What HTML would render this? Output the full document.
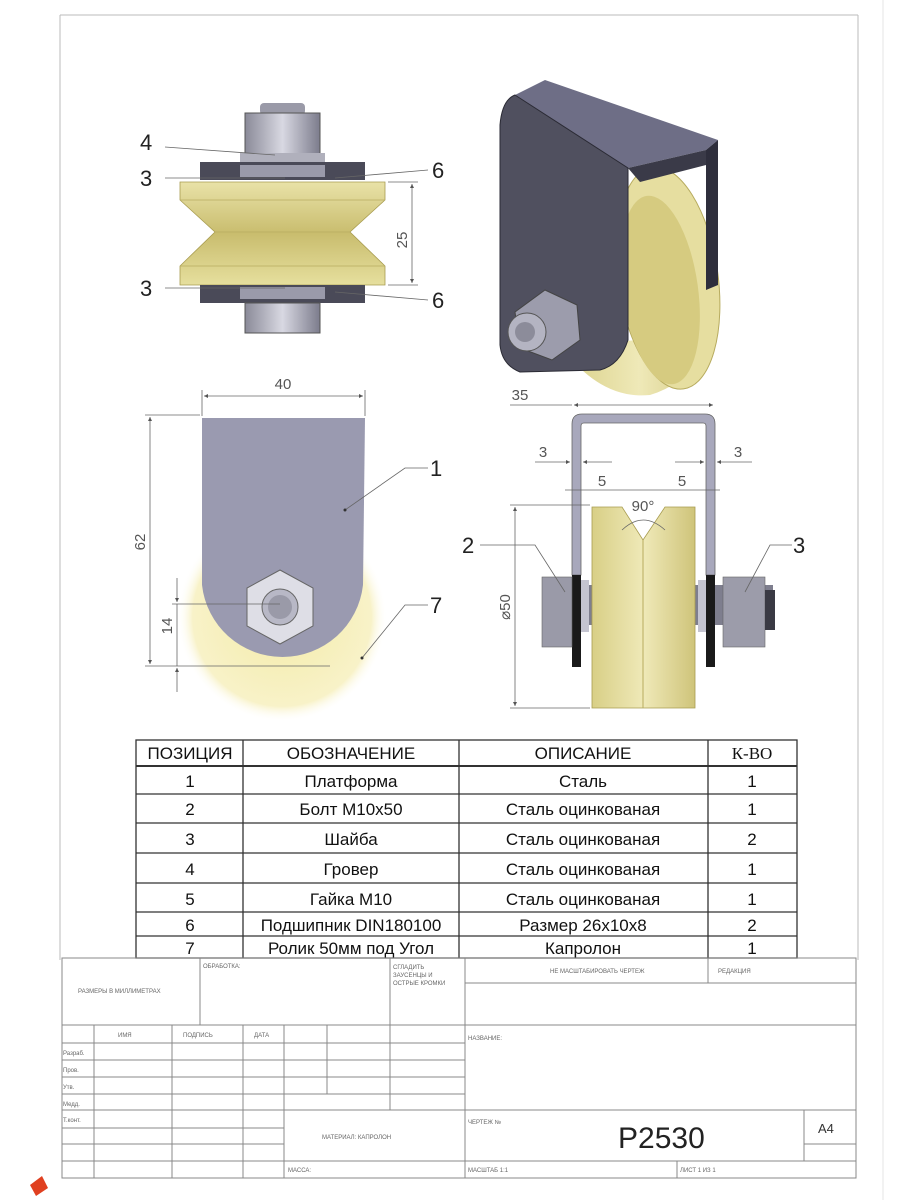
<!DOCTYPE html>
<html><head><meta charset="utf-8"><style>
html,body{margin:0;padding:0;background:#fff;width:900px;height:1200px;overflow:hidden}
svg{display:block}
.l{font-family:"Liberation Sans",sans-serif;font-size:22px;fill:#222}
.d{font-family:"Liberation Sans",sans-serif;font-size:15px;fill:#555}
.t{font-family:"Liberation Sans","DejaVu Sans",sans-serif;font-size:17px;fill:#111;text-anchor:middle}
.s{font-family:"Liberation Sans","DejaVu Sans",sans-serif;font-size:6px;fill:#666}
</style></head><body>
<svg width="900" height="1200" viewBox="0 0 900 1200" xmlns="http://www.w3.org/2000/svg">
<defs>
<linearGradient id="yel" x1="0" y1="0" x2="0" y2="1"><stop offset="0" stop-color="#e9e2a8"/><stop offset="0.5" stop-color="#c9bd6e"/><stop offset="1" stop-color="#e6df9e"/></linearGradient>
<linearGradient id="yh" x1="0" y1="0" x2="1" y2="0"><stop offset="0" stop-color="#d8cf86"/><stop offset="0.5" stop-color="#efe9b8"/><stop offset="1" stop-color="#cfc47a"/></linearGradient>
<radialGradient id="pale" cx="0.5" cy="0.5" r="0.5"><stop offset="0" stop-color="#f2ea a0"/><stop offset="0" stop-color="#f3eba8"/><stop offset="0.85" stop-color="#f8f2c8"/><stop offset="1" stop-color="#fff" stop-opacity="0"/></radialGradient>
<linearGradient id="steel" x1="0" y1="0" x2="1" y2="0"><stop offset="0" stop-color="#8a8a98"/><stop offset="0.5" stop-color="#d8d8e2"/><stop offset="1" stop-color="#7c7c8c"/></linearGradient>
<marker id="a" viewBox="0 0 10 10" refX="10" refY="5" markerWidth="7" markerHeight="5" orient="auto-start-reverse"><path d="M0,0L10,5L0,10z" fill="#555"/></marker>
</defs>
<g stroke="#bbb" stroke-width="1" fill="none">
<line x1="60" y1="15" x2="858" y2="15"/><line x1="60" y1="15" x2="60" y2="960"/><line x1="858" y1="15" x2="858" y2="960"/>
<line x1="883" y1="0" x2="883" y2="1200" stroke="#e4e4e4"/>
</g>

<!-- TOP LEFT VIEW -->
<rect x="260" y="103" width="45" height="12" rx="4" fill="#9a9aa8"/>
<rect x="245" y="113" width="75" height="42" fill="url(#steel)" stroke="#555"/>
<rect x="240" y="153" width="85" height="10" fill="#b0b0bc"/>
<rect x="200" y="162" width="165" height="18" fill="#4a4a58"/>
<rect x="240" y="165" width="85" height="12" fill="#9a9aaa"/>
<path d="M180,182 L385,182 L385,200 L350,232 L385,266 L385,285 L180,285 L180,266 L215,232 L180,200 Z" fill="url(#yel)" stroke="#a89c50" stroke-width="0.8"/>
<path d="M180,200 L385,200 M215,232 L350,232 M180,266 L385,266" stroke="#b8ac60" stroke-width="0.8"/>
<rect x="200" y="285" width="165" height="18" fill="#4a4a58"/>
<rect x="240" y="287" width="85" height="12" fill="#9a9aaa"/>
<rect x="245" y="303" width="75" height="30" fill="url(#steel)" stroke="#555"/>
<g stroke="#666" stroke-width="0.8" fill="none">
<line x1="388" y1="182" x2="418" y2="182"/><line x1="388" y1="285" x2="418" y2="285"/>
<line x1="412" y1="184" x2="412" y2="283" marker-start="url(#a)" marker-end="url(#a)"/>
<path d="M165,147 L275,155"/><path d="M165,178 L285,178"/><path d="M428,170 L335,178"/>
<path d="M165,288 L285,288"/><path d="M428,300 L335,292"/>
</g>
<text class="d" transform="translate(407,240) rotate(-90)" text-anchor="middle">25</text>
<text class="l" x="140" y="150">4</text><text class="l" x="140" y="186">3</text>
<text class="l" x="432" y="178">6</text><text class="l" x="140" y="296">3</text><text class="l" x="432" y="308">6</text>

<!-- TOP RIGHT ISO -->
<path d="M560,345 Q600,400 650,395 Q700,380 718,320 L718,280 L640,340 Z" fill="url(#yh)"/>
<ellipse cx="668" cy="278" rx="50" ry="112" transform="rotate(-8 668 278)" fill="#e6dea0" stroke="#b7ab5e"/>
<ellipse cx="660" cy="290" rx="38" ry="95" transform="rotate(-8 660 290)" fill="#d6cb80"/>
<path d="M515,95 L545,80 L718,140 L706,150 L628,168 Z" fill="#6e6e86"/>
<path d="M706,150 L718,140 L718,285 L706,290 Z" fill="#2e2e3c"/>
<path d="M500,125 Q502,100 515,95 L628,168 L628,340 Q620,365 600,370 L520,372 Q502,365 500,345 Z" fill="#50505f" stroke="#2a2a34"/>
<path d="M628,168 L706,150 L706,165 L640,182 Z" fill="#3a3a48"/>
<polygon points="545,290 577,305 580,340 552,360 520,348 515,312" fill="#9c9cac" stroke="#444"/>
<circle cx="527" cy="332" r="19" fill="#b4b4c2" stroke="#555"/>
<circle cx="525" cy="332" r="10" fill="#8c8c9a"/>

<!-- BOTTOM LEFT -->
<circle cx="282" cy="617" r="105" fill="url(#pale)"/>
<path d="M202,418 L365,418 L363,585 A81,81 0 0 1 202,585 Z" fill="#9a9ab0"/>
<polygon points="280,570 313,588 313,626 280,644 247,626 247,588" fill="#dedee6" stroke="#666"/>
<circle cx="280" cy="607" r="18" fill="#b8b8c6" stroke="#666"/>
<circle cx="280" cy="607" r="12" fill="#9a9aa8"/>
<g stroke="#666" stroke-width="0.8" fill="none">
<line x1="202" y1="390" x2="202" y2="416"/><line x1="365" y1="390" x2="365" y2="416"/>
<line x1="204" y1="396" x2="363" y2="396" marker-start="url(#a)" marker-end="url(#a)"/>
<line x1="145" y1="415" x2="200" y2="415"/><line x1="145" y1="666" x2="330" y2="666"/>
<line x1="150" y1="417" x2="150" y2="664" marker-start="url(#a)" marker-end="url(#a)"/>
<line x1="172" y1="604" x2="280" y2="604"/>
<line x1="177" y1="578" x2="177" y2="602" marker-end="url(#a)"/>
<line x1="177" y1="692" x2="177" y2="668" marker-end="url(#a)"/>
<line x1="177" y1="604" x2="177" y2="666"/>
<path d="M428,468 L405,468 L345,510"/><path d="M428,605 L405,605 L362,658"/>
</g>
<circle cx="345" cy="510" r="1.5" fill="#333"/><circle cx="362" cy="658" r="1.5" fill="#333"/>
<text class="d" x="283" y="389" text-anchor="middle">40</text>
<text class="d" transform="translate(145,542) rotate(-90)" text-anchor="middle">62</text>
<text class="d" transform="translate(172,626) rotate(-90)" text-anchor="middle">14</text>
<text class="l" x="430" y="476">1</text><text class="l" x="430" y="613">7</text>

<!-- BOTTOM RIGHT FRONT VIEW -->
<rect x="545" y="585" width="228" height="40" fill="#7e7e8e"/>
<path d="M572,575 L572,424 Q572,414 582,414 L705,414 Q715,414 715,424 L715,575 L706,575 L706,426 Q706,423 703,423 L584,423 Q581,423 581,426 L581,575 Z" fill="#a8a8bc" stroke="#666" stroke-width="0.8"/>
<rect x="572" y="575" width="9" height="92" fill="#1a1a1a"/><rect x="706" y="575" width="9" height="92" fill="#1a1a1a"/>
<rect x="581" y="580" width="8" height="52" fill="#c4c4d0"/><rect x="698" y="580" width="8" height="52" fill="#c4c4d0"/>
<path d="M592,507 L622,507 L643,540 L665,507 L695,507 L695,708 L592,708 Z" fill="url(#yh)" stroke="#a89c50" stroke-width="0.8"/>
<line x1="643" y1="540" x2="643" y2="708" stroke="#b7ab5e"/>
<rect x="542" y="577" width="30" height="70" fill="#9a9aa8" stroke="#666" stroke-width="0.6"/>
<rect x="723" y="577" width="42" height="70" fill="#9c9caa" stroke="#666" stroke-width="0.6"/>
<rect x="765" y="590" width="10" height="40" fill="#3a3a44"/>
<g stroke="#666" stroke-width="0.8" fill="none">
<line x1="510" y1="405" x2="572" y2="405"/><line x1="574" y1="405" x2="713" y2="405" marker-start="url(#a)" marker-end="url(#a)"/>
<line x1="535" y1="462" x2="570" y2="462" marker-end="url(#a)"/><line x1="612" y1="462" x2="583" y2="462" marker-end="url(#a)"/>
<line x1="675" y1="462" x2="704" y2="462" marker-end="url(#a)"/><line x1="752" y1="462" x2="717" y2="462" marker-end="url(#a)"/>
<line x1="565" y1="490" x2="720" y2="490"/>
<line x1="510" y1="505" x2="590" y2="505"/><line x1="510" y1="708" x2="590" y2="708"/>
<line x1="515" y1="507" x2="515" y2="706" marker-start="url(#a)" marker-end="url(#a)"/>
<path d="M622,530 Q643,510 665,530"/>
<path d="M480,545 L535,545 L565,592"/><path d="M792,545 L770,545 L745,592"/>
</g>
<text class="d" x="520" y="400" text-anchor="middle">35</text>
<text class="d" x="543" y="457" text-anchor="middle">3</text><text class="d" x="738" y="457" text-anchor="middle">3</text>
<text class="d" x="602" y="486" text-anchor="middle">5</text><text class="d" x="682" y="486" text-anchor="middle">5</text>
<text class="d" x="643" y="511" text-anchor="middle">90°</text>
<text class="d" transform="translate(510,607) rotate(-90)" text-anchor="middle">⌀50</text>
<text class="l" x="462" y="553">2</text><text class="l" x="793" y="553">3</text>

<!-- TABLE -->
<g stroke="#333" stroke-width="1.3" fill="none">
<rect x="136" y="740" width="661" height="218"/>
<line x1="136" y1="766" x2="797" y2="766" stroke-width="2"/>
<line x1="136" y1="794" x2="797" y2="794"/><line x1="136" y1="823" x2="797" y2="823"/>
<line x1="136" y1="853" x2="797" y2="853"/><line x1="136" y1="883" x2="797" y2="883"/>
<line x1="136" y1="912" x2="797" y2="912"/><line x1="136" y1="936" x2="797" y2="936"/>
<line x1="243" y1="740" x2="243" y2="958"/><line x1="459" y1="740" x2="459" y2="958"/><line x1="708" y1="740" x2="708" y2="958"/>
</g>
<g class="t">
<text x="190" y="759">ПОЗИЦИЯ</text><text x="351" y="759">ОБОЗНАЧЕНИЕ</text><text x="583" y="759">ОПИСАНИЕ</text><text x="752" y="759" style="font-family:'Liberation Serif',serif">К-ВО</text>
<text x="190" y="787">1</text><text x="351" y="787">Платформа</text><text x="583" y="787">Сталь</text><text x="752" y="787">1</text>
<text x="190" y="815">2</text><text x="351" y="815">Болт М10х50</text><text x="583" y="815">Сталь оцинкованая</text><text x="752" y="815">1</text>
<text x="190" y="845">3</text><text x="351" y="845">Шайба</text><text x="583" y="845">Сталь оцинкованая</text><text x="752" y="845">2</text>
<text x="190" y="875">4</text><text x="351" y="875">Гровер</text><text x="583" y="875">Сталь оцинкованая</text><text x="752" y="875">1</text>
<text x="190" y="905">5</text><text x="351" y="905">Гайка М10</text><text x="583" y="905">Сталь оцинкованая</text><text x="752" y="905">1</text>
<text x="190" y="931">6</text><text x="351" y="931">Подшипник DIN180100</text><text x="583" y="931">Размер 26х10х8</text><text x="752" y="931">2</text>
<text x="190" y="954">7</text><text x="351" y="954">Ролик 50мм под Угол</text><text x="583" y="954">Капролон</text><text x="752" y="954">1</text>
</g>

<!-- TITLE BLOCK -->
<g stroke="#888" stroke-width="1" fill="none">
<rect x="62" y="958" width="794" height="220"/>
<line x1="62" y1="1025" x2="856" y2="1025"/>
<line x1="200" y1="958" x2="200" y2="1025"/><line x1="390" y1="958" x2="390" y2="1110"/>
<line x1="465" y1="958" x2="465" y2="1178"/><line x1="708" y1="958" x2="708" y2="983"/>
<line x1="465" y1="983" x2="856" y2="983"/>
<line x1="94" y1="1025" x2="94" y2="1178"/><line x1="172" y1="1025" x2="172" y2="1178"/>
<line x1="243" y1="1025" x2="243" y2="1178"/><line x1="284" y1="1025" x2="284" y2="1178"/>
<line x1="327" y1="1025" x2="327" y2="1094"/>
<line x1="62" y1="1043" x2="465" y2="1043"/><line x1="62" y1="1060" x2="465" y2="1060"/>
<line x1="62" y1="1077" x2="465" y2="1077"/><line x1="62" y1="1094" x2="465" y2="1094"/>
<line x1="62" y1="1110" x2="856" y2="1110"/>
<line x1="62" y1="1128" x2="284" y2="1128"/><line x1="62" y1="1144" x2="284" y2="1144"/>
<line x1="62" y1="1161" x2="856" y2="1161"/>
<line x1="804" y1="1110" x2="804" y2="1161"/><line x1="804" y1="1144" x2="856" y2="1144"/>
<line x1="677" y1="1161" x2="677" y2="1178"/>
</g>
<g class="s">
<text x="78" y="993">РАЗМЕРЫ В МИЛЛИМЕТРАХ</text><text x="203" y="968">ОБРАБОТКА:</text>
<text x="393" y="969">СГЛАДИТЬ</text><text x="393" y="977">ЗАУСЕНЦЫ И</text><text x="393" y="985">ОСТРЫЕ КРОМКИ</text>
<text x="550" y="973">НЕ МАСШТАБИРОВАТЬ ЧЕРТЕЖ</text><text x="718" y="973">РЕДАКЦИЯ</text>
<text x="118" y="1037">ИМЯ</text><text x="183" y="1037">ПОДПИСЬ</text><text x="254" y="1037">ДАТА</text>
<text x="63" y="1055">Разраб.</text><text x="63" y="1072">Пров.</text><text x="63" y="1089">Утв.</text><text x="63" y="1106">Медд.</text><text x="63" y="1122">Т.конт.</text>
<text x="468" y="1040">НАЗВАНИЕ:</text><text x="468" y="1124">ЧЕРТЕЖ №</text>
<text x="322" y="1139">МАТЕРИАЛ: КАПРОЛОН</text>
<text x="288" y="1172">МАССА:</text><text x="468" y="1172">МАСШТАБ 1:1</text><text x="680" y="1172">ЛИСТ 1 ИЗ 1</text>
</g>
<text x="618" y="1148" style="font-family:'Liberation Sans',sans-serif;font-size:30px;fill:#222">P2530</text>
<text x="818" y="1133" style="font-family:'Liberation Sans',sans-serif;font-size:13px;fill:#333">A4</text>
<path d="M30,1185 L42,1176 L48,1188 L36,1196 Z" fill="#e04020"/>
</svg>
</body></html>
